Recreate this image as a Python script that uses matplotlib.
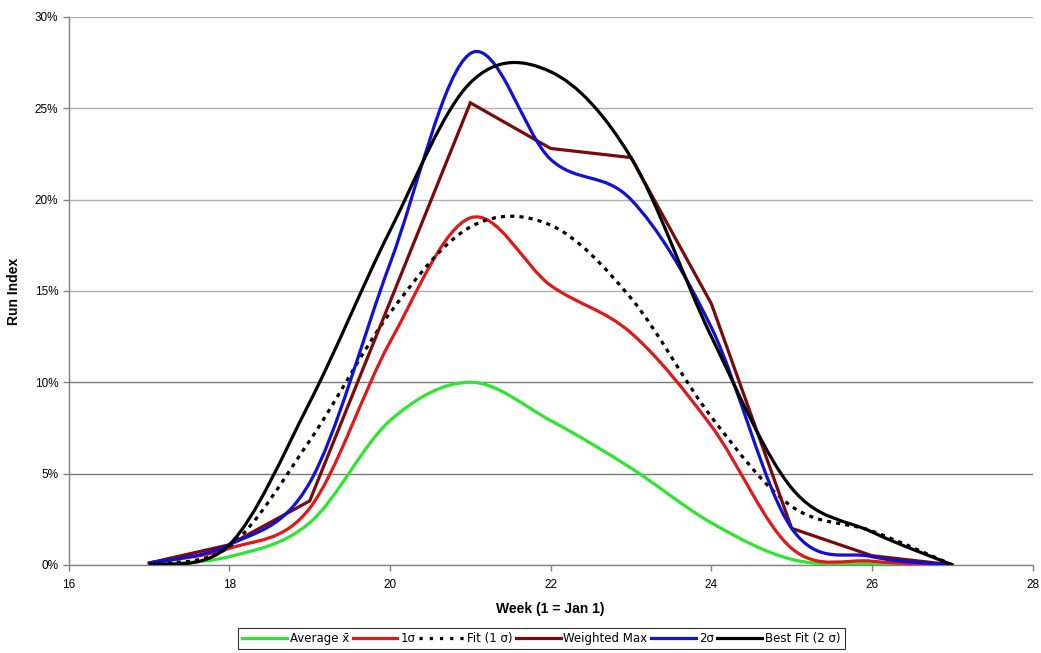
import numpy as np
import matplotlib
matplotlib.use('Agg')
import matplotlib.pyplot as plt
from matplotlib.path import Path
from matplotlib.patches import PathPatch
from matplotlib.lines import Line2D
from matplotlib.ticker import FuncFormatter, MultipleLocator

weeks = [17, 18, 19, 20, 21, 22, 23, 24, 25, 26, 27]
average = [0.0, 0.45, 2.3, 7.9, 10.0, 7.9, 5.3, 2.3, 0.3, 0.05, 0.0]
one_sigma = [0.1, 0.9, 3.1, 12.2, 19.0, 15.3, 12.7, 7.6, 0.9, 0.2, 0.0]
fit_one_sigma = [0.05, 1.0, 6.8, 13.8, 18.5, 18.6, 14.6, 8.1, 3.2, 1.85, 0.0]
weighted_max = [0.1, 1.1, 3.5, 14.4, 25.3, 22.8, 22.3, 14.3, 2.0, 0.5, 0.0]
two_sigma = [0.1, 1.1, 4.5, 16.5, 28.0, 22.2, 20.0, 13.0, 2.0, 0.45, 0.0]
best_fit = [0.0, 1.1, 8.9, 18.3, 26.4, 27.0, 22.3, 12.5, 4.2, 1.8, 0.0]

labels = ['Average x\u0304', '1\u03c3', 'Fit (1 \u03c3)', 'Weighted Max', '2\u03c3', 'Best Fit (2 \u03c3)']


def smooth_path(x, y):
    """Bezier path through the data points (Excel-style smoothed line)."""
    x = np.asarray(x, float)
    y = np.asarray(y, float)
    n = len(x)
    verts = [(x[0], y[0])]
    codes = [Path.MOVETO]
    for i in range(n - 1):
        p0 = np.array([x[max(i - 1, 0)], y[max(i - 1, 0)]])
        p1 = np.array([x[i], y[i]])
        p2 = np.array([x[i + 1], y[i + 1]])
        p3 = np.array([x[min(i + 2, n - 1)], y[min(i + 2, n - 1)]])
        c1 = p1 + (p2 - p0) / 6.0
        c2 = p2 - (p3 - p1) / 6.0
        verts += [tuple(c1), tuple(c2), tuple(p2)]
        codes += [Path.CURVE4] * 3
    return Path(verts, codes)


fig = plt.figure(figsize=(10.41, 6.53), dpi=100)
ax = fig.add_axes([0.066, 0.135, 0.926, 0.839])

lw = 2.3
series = [
    (average, '#2ee62e', 'solid', True),
    (one_sigma, '#e01818', 'solid', True),
    (fit_one_sigma, '#000000', (0, (1.3, 1.6)), True),
    (weighted_max, '#7a0a0a', 'solid', False),
    (two_sigma, '#1010d8', 'solid', True),
    (best_fit, '#000000', 'solid', True),
]

handles = []
for (vals, col, ls, smooth), lab in zip(series, labels):
    if smooth:
        patch = PathPatch(smooth_path(weeks, vals), fill=False, edgecolor=col,
                          lw=lw, linestyle=ls, capstyle='butt', joinstyle='round', zorder=3)
        ax.add_patch(patch)
    else:
        ax.plot(weeks, vals, color=col, lw=lw, linestyle=ls, zorder=3,
                solid_joinstyle='miter')
    hls = (0, (1.0, 2.2)) if ls != 'solid' else ls
    handles.append(Line2D([], [], color=col, lw=lw, linestyle=hls, label=lab))

ax.set_xlim(16, 28)
ax.set_ylim(0, 30)
ax.xaxis.set_major_locator(MultipleLocator(2))
ax.yaxis.set_major_locator(MultipleLocator(5))
ax.yaxis.set_major_formatter(FuncFormatter(lambda v, p: f'{v:.0f}%'))

for s in ['top', 'right']:
    ax.spines[s].set_visible(False)
for s in ['left', 'bottom']:
    ax.spines[s].set_color('#808080')
    ax.spines[s].set_linewidth(1.0)

ax.yaxis.grid(True, color='#b0b0b0', lw=1.0, zorder=0)
ax.set_axisbelow(True)
fig.canvas.draw()
for tick in ax.yaxis.get_major_ticks():
    v = tick.get_loc()
    if v in (5, 10):
        tick.gridline.set_color('#7a7a7a')
ax.tick_params(axis='both', direction='out', length=4, color='#808080',
               labelsize=8.5, width=1.0)
for t in ax.get_xticklabels() + ax.get_yticklabels():
    t.set_family('Liberation Sans')
ax.tick_params(axis='x', pad=6)

ax.set_xlabel('Week (1 = Jan 1)', fontsize=10, fontweight='bold',
              family='Liberation Sans', labelpad=8)
ax.set_ylabel('Run Index', fontsize=10, fontweight='bold',
              family='Liberation Sans', labelpad=10)

leg = fig.legend(handles=handles, loc='upper center',
                 bbox_to_anchor=(0.52, 1 - 628 / 653),
                 ncol=6, fontsize=8.5, frameon=True, fancybox=False,
                 edgecolor='#000000', handlelength=3.8, handletextpad=0.25,
                 columnspacing=0.3, borderpad=0.35, borderaxespad=0)
leg.get_frame().set_linewidth(0.8)

fig.savefig('out.png', dpi=100, facecolor='white')
